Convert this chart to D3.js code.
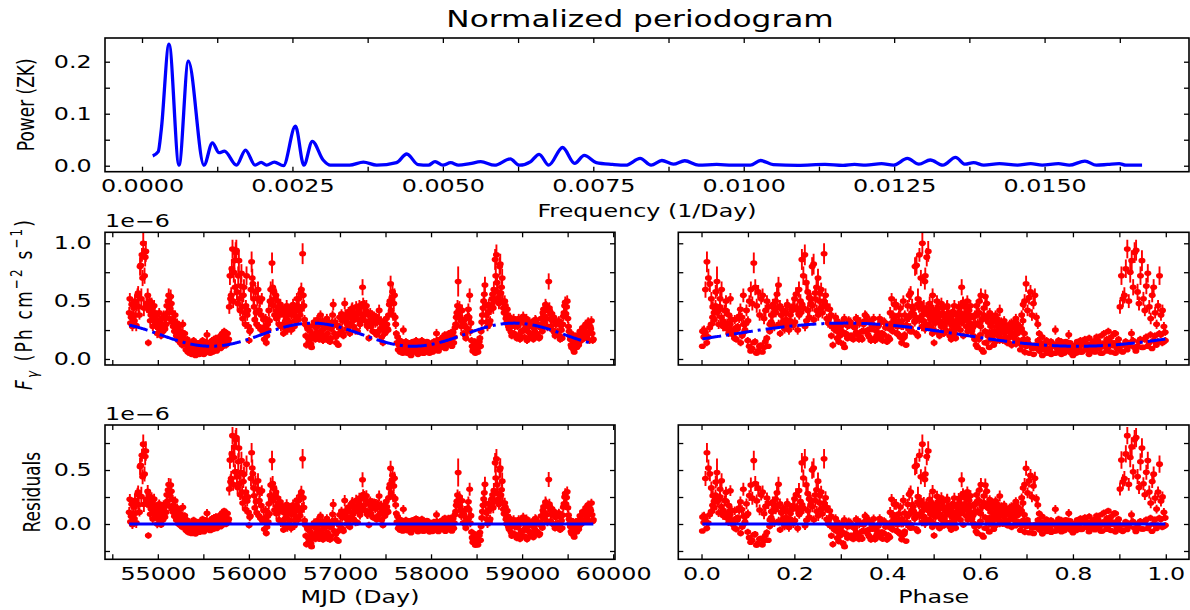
<!DOCTYPE html>
<html>
<head>
<meta charset="utf-8">
<script src="https://cdn.jsdelivr.net/npm/d3@7"></script>
<style>
  html, body { margin: 0; padding: 0; background: #fff; }
  svg { display: block; }
</style>
</head>
<body>
<svg id="fig" width="1190" height="610"></svg>
<script>
// ---------------- periodogram (Zechmeister-Kuerster normalisation) ----------------
const pgFreq = [0.000178, 0.00027, 0.00032, 0.000449, 0.000615, 0.00077, 0.00103, 0.00117, 0.00128, 0.00137,
  0.00157, 0.00172, 0.00188, 0.00198, 0.00207, 0.0022, 0.00235, 0.00255, 0.00269, 0.00283,
  0.00301, 0.00313, 0.00345, 0.00368, 0.0039, 0.00423, 0.0044, 0.00459, 0.00476, 0.00487,
  0.005, 0.00513, 0.00526, 0.00545, 0.00563, 0.00586, 0.00612, 0.00627, 0.00646, 0.0066,
  0.00676, 0.00699, 0.00719, 0.00735, 0.00755, 0.00782, 0.00804, 0.00828, 0.00846, 0.00864,
  0.00883, 0.00902, 0.00925, 0.00955, 0.00981, 0.01011, 0.01028, 0.01049, 0.0109, 0.01135,
  0.01165, 0.01184, 0.01203, 0.01229, 0.01249, 0.01272, 0.01291, 0.0131, 0.01331, 0.01352,
  0.01368, 0.01382, 0.01399, 0.01425, 0.01455, 0.01477, 0.01496, 0.01523, 0.01541, 0.01567,
  0.01586, 0.01605, 0.01624, 0.01635, 0.01662];
const pgPower = [0.019, 0.027, 0.069, 0.234, 0.001, 0.201, 0.001, 0.044, 0.025, 0.028,
  0.001, 0.030, 0.001, 0.0065, 0.001, 0.007, 0.0, 0.076, 0.001, 0.047,
  0.011, 0.001, 0.001, 0.007, 0.001, 0.006, 0.0225, 0.002, 0.001, 0.008,
  0.001, 0.006, 0.001, 0.004, 0.0077, 0.001, 0.013, 0.001, 0.008, 0.022,
  0.001, 0.035, 0.0045, 0.020, 0.006, 0.0025, 0.001, 0.014, 0.001, 0.010,
  0.003, 0.0096, 0.001, 0.0025, 0.001, 0.001, 0.010, 0.002, 0.0006, 0.0025,
  0.0006, 0.0025, 0.001, 0.004, 0.001, 0.014, 0.003, 0.011, 0.001, 0.016,
  0.003, 0.006, 0.001, 0.004, 0.001, 0.004, 0.001, 0.004, 0.001, 0.009,
  0.001, 0.0025, 0.004, 0.001, 0.001];

// ---------------- weekly-binned gamma-ray light curve ----------------
const binStart = 54686;   // MJD of first bin centre
const binDays = 7;        // bin width (days)
// photon flux, units of 1e-8 ph cm^-2 s^-1
const flux = [
  40,52,31,36,47,28,38,44,33,50,38,29,46,55,
  57,45,38,80,81,52,90,70,100,44,72,88,93,48,
  45,55,14,42,50,33,38,48,44,28,35,46,40,32,
  29,38,22,33,27,40,25,31,20,35,28,24,38,30,
  26,36,30,46,40,50,55,35,44,54,48,32,40,28,
  33,24,38,28,20,31,26,16,22,29,14,24,19,12,
  30,18,13,22,15,8,12,17,6,11,14,5,12,9,
  4,12,9,16,7,11,3,13,9,5,14,8,4,11,
  13,5,9,16,7,4,11,8,15,10,21,6,12,9,
  11,5,14,9,16,6,12,17,8,13,18,7,10,15,
  12,19,15,9,20,13,22,11,17,24,14,19,12,22,
  22,14,17,45,72,52,55,78,95,50,75,85,62,92,
  94,58,48,72,85,52,42,63,74,45,35,55,62,40,
  30,46,72,38,42,28,16,24,25,60,84,70,65,52,
  45,34,58,40,30,52,60,28,42,50,26,38,52,25,
  24,34,17,28,35,14,20,30,25,42,33,50,60,48,
  83,62,46,58,38,52,55,35,42,50,45,30,38,47,
  28,40,44,30,22,38,42,26,34,46,25,38,42,29,
  32,43,25,38,40,47,44,28,33,42,36,52,46,34,
  52,42,38,57,60,45,91,55,46,34,30,20,12,28,
  26,18,15,28,24,13,10,21,18,29,32,20,17,27,
  23,34,31,19,17,30,38,24,21,33,16,26,29,18,
  20,29,35,22,16,32,27,15,18,26,31,38,47,30,
  22,32,19,14,29,21,12,28,36,27,24,39,33,22,
  20,34,48,38,33,26,30,38,41,28,22,36,31,43,
  44,33,28,40,37,25,45,38,24,34,41,46,30,39,
  45,34,62,48,38,46,33,42,46,29,28,38,18,31,
  40,28,34,38,24,35,37,23,31,36,21,32,35,24,
  42,32,26,33,19,28,14,25,31,22,27,35,30,26,
  25,38,47,50,65,42,53,58,38,48,55,36,30,22,
  14,19,8,12,16,6,9,15,11,5,25,12,7,14,
  15,9,5,13,11,7,14,5,3,11,8,15,12,6,
  7,13,16,8,11,4,9,12,15,6,10,16,11,5,
  5,11,14,7,10,15,6,12,14,5,9,13,11,7,
  6,12,15,8,11,14,22,16,10,7,11,15,17,10,
  10,17,19,11,14,21,9,16,20,12,15,22,21,14,
  15,23,11,19,23,14,19,27,30,36,40,46,67,42,
  45,36,33,28,42,31,22,30,34,21,18,27,26,37,
  43,36,55,24,31,16,11,7,9,14,15,5,7,11,
  12,6,10,15,18,11,24,32,38,44,50,56,64,46,
  38,32,28,40,47,30,33,43,45,52,56,44,60,50,
  86,72,90,66,58,53,48,80,82,57,62,70,50,44,
  40,50,46,35,31,43,38,28,26,36,33,23,20,31,
  30,35,22,29,33,20,18,28,29,35,21,17,32,24,
  24,33,37,25,19,26,29,35,16,24,28,18,32,22,
  21,31,28,19,17,27,24,34,33,22,21,30,29,18,
  19,29,35,27,24,40,43,32,36,47,45,35,28,42,
  67,44,41,28,34,39,25,33,36,23,20,30,31,22,
  24,32,33,20,17,29,25,18,30,37,40,46,49,39,
  45,50,35,28,24,20,17,12,10,17,21,8,6,14,
  14,20,10,17,19,12,15,24,21,16,18,27,25,18,
  18,27,30,22,20,31,32,23,16,28,26,33,22,16,
  17];
// 1-sigma flux uncertainty, same units
const fluxErr = [
  5,5,4,4,5,4,4,4,5,5,4,5,5,6,
  6,7,4,8,8,9,6,7,9,7,7,8,9,6,
  5,6,3,5,5,4,4,5,5,4,4,5,5,4,
  4,4,4,4,3,4,4,3,3,4,4,4,4,4,
  3,4,4,5,5,4,6,5,5,6,6,5,4,5,
  4,3,4,4,3,4,4,3,3,3,3,3,3,3,
  4,3,3,3,3,2,2,3,3,2,2,2,2,2,
  2,2,2,3,3,2,2,2,2,2,2,2,2,2,
  2,2,2,3,2,2,2,2,2,3,4,2,2,2,
  2,2,2,2,3,2,2,3,2,2,3,2,2,3,
  2,3,3,2,2,3,3,3,3,3,3,3,3,3,
  3,3,3,6,8,7,7,8,8,6,9,9,7,9,
  9,7,6,8,9,6,5,7,8,6,5,6,7,5,
  4,5,8,5,5,4,3,4,4,7,9,8,7,6,
  5,5,6,5,4,6,7,4,5,5,4,5,5,4,
  3,4,3,3,4,3,3,4,4,5,4,5,7,6,
  9,7,6,6,5,5,6,5,5,5,5,4,4,5,
  4,4,5,4,3,4,4,4,4,5,4,4,5,4,
  4,5,4,4,4,5,5,4,4,5,4,5,5,4,
  6,5,5,6,6,5,9,6,5,4,4,3,3,4,
  4,3,3,3,3,3,2,3,3,3,4,3,3,3,
  3,4,4,3,3,4,4,3,3,4,3,3,3,3,
  3,4,4,3,3,4,3,3,3,3,4,4,5,4,
  3,4,3,3,4,3,2,3,4,4,3,4,4,3,
  3,4,5,5,4,4,4,4,4,4,3,4,4,5,
  5,4,4,4,4,4,5,4,3,4,4,5,4,4,
  5,4,7,5,5,5,4,5,5,4,4,4,3,4,
  4,4,4,4,3,4,4,3,4,4,3,4,4,3,
  5,4,4,4,3,3,3,3,4,3,3,4,4,4,
  3,4,5,6,7,5,6,6,5,5,6,4,4,3,
  2,3,2,2,3,2,2,3,2,2,4,2,2,2,
  3,2,2,2,2,2,2,2,2,2,2,2,2,2,
  2,2,3,2,2,2,2,2,2,2,2,3,2,2,
  2,2,2,2,2,2,2,2,2,2,2,2,2,2,
  2,2,3,2,2,2,4,3,2,2,2,3,3,2,
  2,3,3,2,2,3,2,3,3,2,3,3,3,3,
  3,3,2,3,3,3,3,4,4,4,5,5,13,5,
  5,4,4,4,5,4,3,4,4,3,3,3,4,4,
  5,4,6,4,4,3,2,2,2,2,3,2,2,2,
  2,2,2,3,3,2,3,4,5,5,6,6,7,5,
  5,4,4,5,5,4,4,5,5,6,6,5,7,6,
  9,8,9,7,6,6,5,8,9,6,7,8,6,5,
  5,5,5,4,4,5,4,4,4,4,4,3,3,4,
  4,4,3,4,4,3,3,3,3,4,3,3,4,3,
  3,4,4,3,3,3,4,4,3,3,3,3,4,3,
  3,4,3,3,3,3,3,4,4,3,3,4,4,3,
  3,3,4,4,3,4,5,4,4,5,5,4,4,5,
  7,5,5,4,4,4,3,4,4,3,3,4,4,3,
  3,4,4,3,3,3,3,3,4,4,4,5,5,5,
  5,5,4,4,3,3,3,3,2,3,3,2,2,2,
  3,3,2,3,3,2,3,3,3,3,3,3,3,3,
  3,3,4,3,3,4,4,3,3,3,3,4,3,3,
  3];

// best-fit sinusoid: F(t) = mean + amp * cos(2*pi*(phase - phaseMax))
const fitPeriod = 2220;     // days
const fitEpoch = 53784;     // MJD of phase zero
const fitMean = 0.21, fitAmp = 0.10, fitPhaseMax = 0.31;   // 1e-6 units

// ---------------- axis ticks ----------------
const pgXTicks = [0, 0.00125, 0.0025, 0.00375, 0.005, 0.00625, 0.0075, 0.00875, 0.01, 0.01125, 0.0125, 0.01375, 0.015, 0.01625, 0.0175];
const pgXLabels = [0, 0.0025, 0.005, 0.0075, 0.01, 0.0125, 0.015];
const pgYTicks = [0, 0.05, 0.1, 0.15, 0.2];
const pgYLabels = [0, 0.1, 0.2];
const mjdTicks = [54500, 55000, 55500, 56000, 56500, 57000, 57500, 58000, 58500, 59000, 59500, 60000];
const mjdLabels = [55000, 56000, 57000, 58000, 59000, 60000];
const fluxTicks = [0, 0.25, 0.5, 0.75, 1.0];
const fluxLabels = [0, 0.5, 1.0];
const phaseTicks = [0, 0.1, 0.2, 0.3, 0.4, 0.5, 0.6, 0.7, 0.8, 0.9, 1.0];
const phaseLabels = [0, 0.2, 0.4, 0.6, 0.8, 1.0];
const residTicks = [-0.25, 0, 0.25, 0.5, 0.75];
const residLabels = [0, 0.5];

// ---------------- derived series ----------------
const model = t => {
  const ph = (((t - fitEpoch) / fitPeriod) % 1 + 1) % 1;
  return fitMean + fitAmp * Math.cos(2 * Math.PI * (ph - fitPhaseMax));
};
const lc = flux.map((f, i) => {
  const mjd = binStart + i * binDays;
  const fl = f / 100, er = fluxErr[i] / 100;
  const phase = (((mjd - fitEpoch) / fitPeriod) % 1 + 1) % 1;
  return { mjd, f: fl, e: er, phase, m: model(mjd), r: fl - model(mjd) };
});
const lcByPhase = lc.slice().sort((a, b) => a.phase - b.phase);

// ---------------- drawing ----------------
const FONT = '"DejaVu Sans", "Liberation Sans", sans-serif';
const FS = 17;        // tick / label font size
const SX = 1.4;       // horizontal glyph stretch of the figure's lettering
const TICK = 5;
const RED = '#ff0000', BLUE = '#0000ff';

const svg = d3.select('#fig').attr('font-family', FONT);

const panels = {
  pg: { x0: 105, x1: 1189, y0: 38, y1: 171.7 },
  fl: { x0: 105, x1: 615, y0: 232.3, y1: 365 },
  fp: { x0: 678.3, x1: 1189, y0: 232.3, y1: 365 },
  rl: { x0: 105, x1: 615, y0: 425, y1: 559.3 },
  rp: { x0: 678.3, x1: 1189, y0: 425, y1: 559.3 }
};

const xFreq = d3.scaleLinear([-0.000615, 0.01740], [panels.pg.x0, panels.pg.x1]);
const yPow = d3.scaleLinear([-0.0115, 0.2456], [panels.pg.y1, panels.pg.y0]);
const xMjd = d3.scaleLinear([54420, 60020], [panels.fl.x0, panels.fl.x1]);
const yFlux = d3.scaleLinear([-0.052, 1.095], [panels.fl.y1, panels.fl.y0]);
const xPhase = d3.scaleLinear([-0.05, 1.05], [panels.fp.x0, panels.fp.x1]);
const yRes = d3.scaleLinear([-0.327, 0.917], [panels.rl.y1, panels.rl.y0]);

const defs = svg.append('defs');
Object.entries(panels).forEach(([k, p]) => {
  defs.append('clipPath').attr('id', 'clip-' + k)
    .append('rect').attr('x', p.x0).attr('y', p.y0)
    .attr('width', p.x1 - p.x0).attr('height', p.y1 - p.y0);
});

const has = (arr, v) => arr.some(a => Math.abs(a - v) < 1e-9);

function axes(p, xs, ys, xt, xl, xfmt, yt, yl, yfmt) {
  const g = svg.append('g');
  const xIn = xt.filter(v => v >= xs.domain()[0] && v <= xs.domain()[1]);
  g.append('g').attr('transform', `translate(0,${p.y1})`)
    .call(d3.axisBottom(xs).tickValues(xIn)
      .tickSizeInner(-TICK).tickSizeOuter(0).tickPadding(8.4)
      .tickFormat(v => (xl && has(xl, v)) ? xfmt(v) : ''));
  g.append('g').attr('transform', `translate(0,${p.y0})`)
    .call(d3.axisTop(xs).tickValues(xIn)
      .tickSizeInner(-TICK).tickSizeOuter(0).tickFormat(''));
  g.append('g').attr('transform', `translate(${p.x0},0)`)
    .call(d3.axisLeft(ys).tickValues(yt).tickSizeInner(-TICK).tickSizeOuter(0).tickPadding(9.5)
      .tickFormat(v => (yl && has(yl, v)) ? yfmt(v) : ''));
  g.append('g').attr('transform', `translate(${p.x1},0)`)
    .call(d3.axisRight(ys).tickValues(yt).tickSizeInner(-TICK).tickSizeOuter(0).tickFormat(''));
  g.selectAll('.domain').remove();
  g.selectAll('.tick line').attr('stroke', '#000').attr('stroke-width', 1.3);
  g.selectAll('.tick text')
    .attr('fill', '#000').attr('font-size', FS).attr('font-family', FONT)
    .attr('transform', `scale(${SX},1)`);
  g.append('rect').attr('x', p.x0).attr('y', p.y0)
    .attr('width', p.x1 - p.x0).attr('height', p.y1 - p.y0)
    .attr('fill', 'none').attr('stroke', '#000').attr('stroke-width', 1.6);
}

function text(x, y, str, opts = {}) {
  const rot = opts.rotate ? ' rotate(-90)' : '';
  const t = svg.append('text')
    .attr('transform', `translate(${x},${y}) scale(${SX},1)${rot}`)
    .attr('text-anchor', opts.anchor || 'middle')
    .attr('font-size', opts.size || FS)
    .attr('fill', '#000');
  if (str !== null) t.text(str);
  return t;
}

function errorPoints(clipId, data, xs, ys, xKey, yKey, xHalf) {
  const g = svg.append('g').attr('clip-path', `url(#${clipId})`);
  const pts = g.selectAll('g.pt').data(data).join('g').attr('class', 'pt');
  pts.append('line')
    .attr('x1', d => xs(d[xKey])).attr('x2', d => xs(d[xKey]))
    .attr('y1', d => ys(d[yKey] - d.e)).attr('y2', d => ys(d[yKey] + d.e))
    .attr('stroke', RED).attr('stroke-width', 1.9);
  pts.append('line')
    .attr('x1', d => xs(d[xKey]) - xHalf).attr('x2', d => xs(d[xKey]) + xHalf)
    .attr('y1', d => ys(d[yKey])).attr('y2', d => ys(d[yKey]))
    .attr('stroke', RED).attr('stroke-width', 1.9);
  pts.append('ellipse')
    .attr('cx', d => xs(d[xKey])).attr('cy', d => ys(d[yKey]))
    .attr('rx', 3.5).attr('ry', 2.8).attr('fill', RED);
  return g;
}

// --- periodogram panel ---
svg.append('path')
  .datum(pgFreq.map((f, i) => [f, pgPower[i]]))
  .attr('clip-path', 'url(#clip-pg)')
  .attr('d', d3.line().x(d => xFreq(d[0])).y(d => yPow(d[1])).curve(d3.curveMonotoneX))
  .attr('fill', 'none').attr('stroke', BLUE).attr('stroke-width', 3.3)
  .attr('stroke-linejoin', 'round');
axes(panels.pg, xFreq, yPow, pgXTicks, pgXLabels, d3.format('.4f'), pgYTicks, pgYLabels, d3.format('.1f'));

// --- flux vs MJD ---
const mjdHalf = Math.max(xMjd(binStart + binDays / 2) - xMjd(binStart), 2.4);
errorPoints('clip-fl', lc, xMjd, yFlux, 'mjd', 'f', mjdHalf);
svg.append('path').datum(lc)
  .attr('clip-path', 'url(#clip-fl)')
  .attr('d', d3.line().x(d => xMjd(d.mjd)).y(d => yFlux(d.m)))
  .attr('fill', 'none').attr('stroke', BLUE).attr('stroke-width', 3)
  .attr('stroke-dasharray', '19,5,3,5');
axes(panels.fl, xMjd, yFlux, mjdTicks, null, null, fluxTicks, fluxLabels, d3.format('.1f'));

// --- flux vs phase ---
const phHalf = Math.max(xPhase(binDays / 2 / fitPeriod) - xPhase(0), 2.4);
errorPoints('clip-fp', lc, xPhase, yFlux, 'phase', 'f', phHalf);
svg.append('path').datum(lcByPhase)
  .attr('clip-path', 'url(#clip-fp)')
  .attr('d', d3.line().x(d => xPhase(d.phase)).y(d => yFlux(d.m)))
  .attr('fill', 'none').attr('stroke', BLUE).attr('stroke-width', 3)
  .attr('stroke-dasharray', '19,5,3,5');
axes(panels.fp, xPhase, yFlux, phaseTicks, null, null, fluxTicks, null, null);

// --- residuals vs MJD ---
errorPoints('clip-rl', lc, xMjd, yRes, 'mjd', 'r', mjdHalf);
svg.append('line')
  .attr('x1', xMjd(lc[0].mjd)).attr('x2', xMjd(lc[lc.length - 1].mjd))
  .attr('y1', yRes(0)).attr('y2', yRes(0))
  .attr('stroke', BLUE).attr('stroke-width', 3);
axes(panels.rl, xMjd, yRes, mjdTicks, mjdLabels, d3.format('d'), residTicks, residLabels, d3.format('.1f'));

// --- residuals vs phase ---
errorPoints('clip-rp', lc, xPhase, yRes, 'phase', 'r', phHalf);
svg.append('line')
  .attr('x1', xPhase(lcByPhase[0].phase)).attr('x2', xPhase(lcByPhase[lcByPhase.length - 1].phase))
  .attr('y1', yRes(0)).attr('y2', yRes(0))
  .attr('stroke', BLUE).attr('stroke-width', 3);
axes(panels.rp, xPhase, yRes, phaseTicks, phaseLabels, d3.format('.1f'), residTicks, null, null);

// --- titles and axis labels ---
const midPg = (panels.pg.x0 + panels.pg.x1) / 2;
text(midPg - 7, 27, 'Normalized periodogram', { size: 22.3 });
text(midPg, 216.5, 'Frequency (1/Day)');
text((panels.rl.x0 + panels.rl.x1) / 2, 603, 'MJD (Day)');
text((panels.rp.x0 + panels.rp.x1) / 2, 603, 'Phase');
text(panels.fl.x0, 227, '1e\u22126', { anchor: 'start' });
text(panels.rl.x0, 420, '1e\u22126', { anchor: 'start' });

text(34, (panels.pg.y0 + panels.pg.y1) / 2, 'Power (ZK)', { rotate: true });
text(40, (panels.rl.y0 + panels.rl.y1) / 2, 'Residuals', { rotate: true });

const fl = text(32, 305, null, { rotate: true })
  .attr('textLength', 170).attr('lengthAdjust', 'spacing');
fl.append('tspan').attr('font-style', 'italic').text('F');
fl.append('tspan').attr('font-style', 'italic').attr('font-size', FS * 0.7).attr('dy', 4).text('\u03b3');
fl.append('tspan').attr('dy', -4).text(' (Ph cm');
fl.append('tspan').attr('font-size', FS * 0.7).attr('dy', -7).text('\u22122');
fl.append('tspan').attr('dy', 7).text(' s');
fl.append('tspan').attr('font-size', FS * 0.7).attr('dy', -7).text('\u22121');
fl.append('tspan').attr('dy', 7).text(')');
</script>
</body>
</html>
